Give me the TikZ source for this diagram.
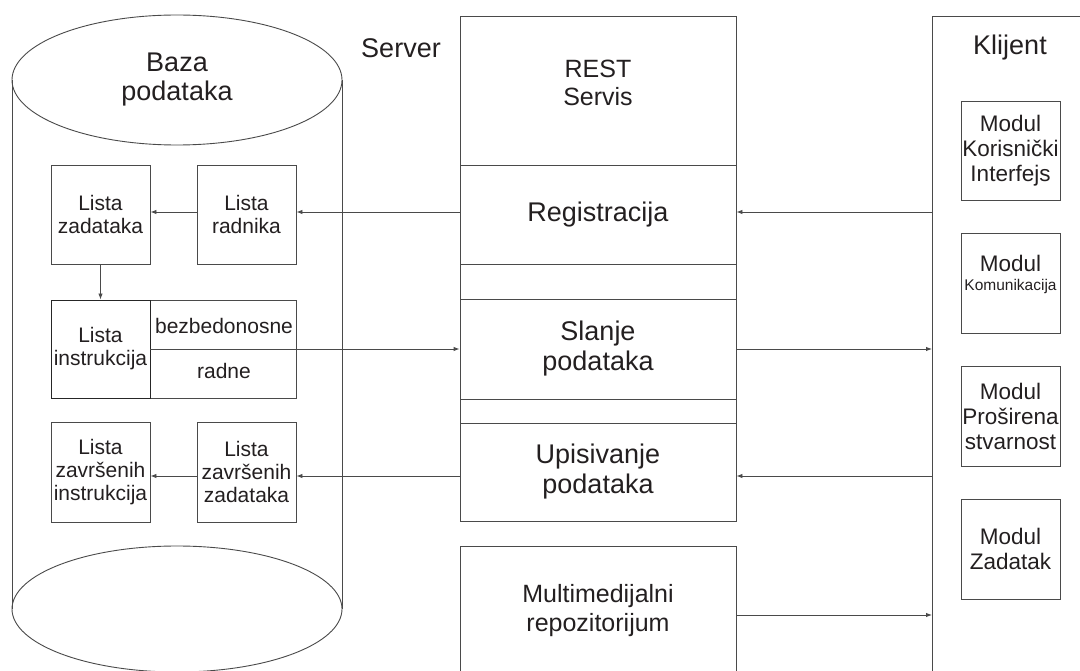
\documentclass[tikz,border=0pt]{standalone}
\usepackage{fontspec}
\setmainfont{Liberation Sans}
\usetikzlibrary{arrows.meta}
\definecolor{ink}{HTML}{231F20}
\definecolor{edge}{HTML}{4A4A4A}
\begin{document}
\begin{tikzpicture}[x=1pt,y=-1pt,line width=0.9pt,
  every node/.style={text=ink},
  blk/.style={draw=edge,rectangle,inner sep=0pt,align=center},
  dbbox/.style={blk,minimum width=99pt,minimum height=99pt,font=\fontsize{21}{23}\selectfont},
  modbox/.style={blk,minimum width=99pt,minimum height=99pt,font=\fontsize{22.5}{25}\selectfont},
  srv/.style={blk,minimum width=276pt,font=\fontsize{27}{30}\selectfont},
  lbl/.style={inner sep=0pt,align=center},
  arr/.style={draw=edge,line width=0.9pt,-{Latex[length=6pt,width=4.5pt]}}]
\useasboundingbox (0,0) rectangle (1080,671);
\clip (0,0) rectangle (1080,671);

% database cylinder
\draw[edge] (177,80) ellipse [x radius=165, y radius=65];
\draw[edge] (12,80) -- (12,609) (342,80) -- (342,609);
\draw[edge] (177,609) ellipse [x radius=165, y radius=63];
\node[lbl,font=\fontsize{27}{29}\selectfont] (dbname) at (177,80) {Baza\\podataka};

% tables inside the database
\node[dbbox] (lz) at (100.5,214.5) {Lista\\zadataka};
\node[dbbox] (lr) at (246.5,214.5) {Lista\\radnika};
\node[blk,minimum width=245pt,minimum height=98pt] (instgrp) at (173.5,349) {};
\node[dbbox,minimum height=98pt,draw=black!85] (li) at (100.5,349) {Lista\\instrukcija};
\node[lbl,font=\fontsize{21}{23}\selectfont] (bez) at (224,326) {bezbedonosne};
\node[lbl,font=\fontsize{21}{23}\selectfont] (rad) at (224,371) {radne};
\node[dbbox,minimum height=100pt] (lzi) at (100.5,472) {Lista\\završenih\\instrukcija};
\node[dbbox,minimum height=100pt] (lzz) at (246.5,472) {Lista\\završenih\\zadataka};

% server column
\node[lbl,font=\fontsize{27}{30}\selectfont] (srvname) at (401,48) {Server};
\node[srv,minimum height=149pt] (rest) at (598,90.5) {};
\node[lbl,font=\fontsize{25}{28}\selectfont] (resttxt) at (598,83) {REST\\Servis};
\node[srv,minimum height=99pt] (reg) at (598,214.5) {Registracija};
\node[srv,minimum height=35pt] (gapa) at (598,281.5) {};
\node[srv,minimum height=100pt] (sl) at (598,349) {Slanje\\podataka};
\node[srv,minimum height=24pt] (gapb) at (598,411) {};
\node[srv,minimum height=98pt] (up) at (598,472) {Upisivanje\\podataka};
\node[srv,minimum height=160pt] (mm) at (598,626) {};
\node[lbl,font=\fontsize{25}{29}\selectfont] (mmtxt) at (598,611) {Multimedijalni\\repozitorijum};

% client column
\node[blk,minimum width=160pt,minimum height=700pt,anchor=north west] (kl) at (932,16) {};
\node[lbl,font=\fontsize{27}{30}\selectfont] (klname) at (1010,48) {Klijent};
\node[modbox] (m1) at (1010.5,151) {Modul\\Korisnički\\Interfejs};
\node[blk,minimum width=99pt,minimum height=100pt] (m2) at (1010.5,283) {};
\node[lbl,font=\fontsize{22.5}{25}\selectfont] (m2a) at (1010.5,263) {Modul};
\node[lbl,font=\fontsize{15.5}{18}\selectfont] (m2b) at (1010.5,286) {Komunikacija};
\node[modbox,minimum height=100pt] (m3) at (1010.5,416) {Modul\\Proširena\\stvarnost};
\node[modbox,minimum height=100pt] (m4) at (1010.5,549) {Modul\\Zadatak};

% data flows
\draw[arr] (reg.west |- 0,212) -- (lr.east |- 0,212);
\draw[arr] (lr.west |- 0,212) -- (lz.east |- 0,212);
\draw[arr] (lz.south) -- (li.north);
\draw[arr] (li.east) -- (sl.west);
\draw[arr] (sl.east) -- (kl.west |- 0,349);
\draw[arr] (kl.west |- 0,212) -- (reg.east |- 0,212);
\draw[arr] (kl.west |- 0,476) -- (up.east |- 0,476);
\draw[arr] (up.west |- 0,476) -- (lzz.east |- 0,476);
\draw[arr] (lzz.west |- 0,476) -- (lzi.east |- 0,476);
\draw[arr] (mm.east |- 0,615) -- (kl.west |- 0,615);
\end{tikzpicture}
\end{document}
